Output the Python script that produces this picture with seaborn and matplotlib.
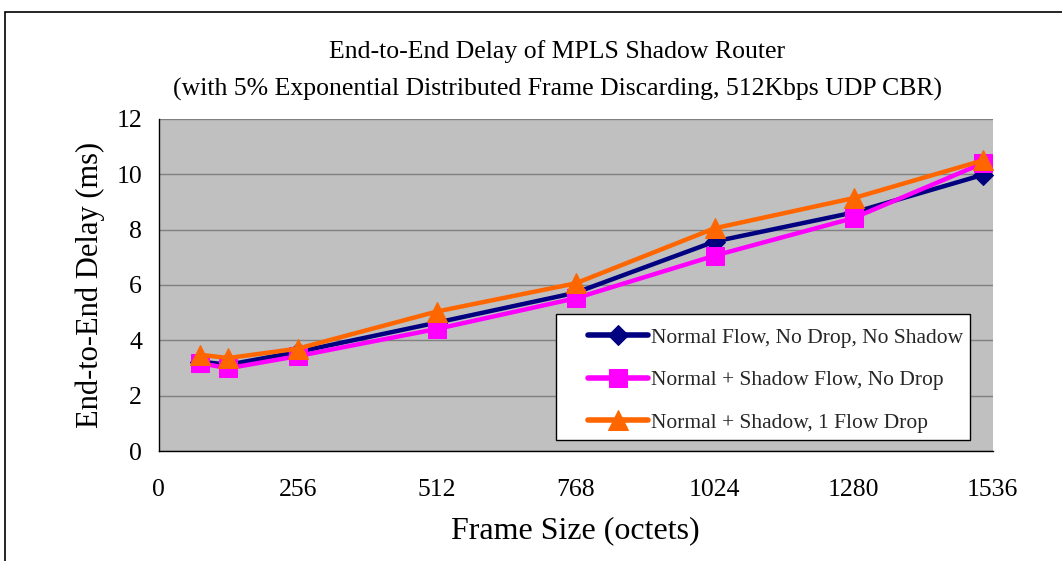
import matplotlib
matplotlib.use("Agg")
import matplotlib.pyplot as plt
from matplotlib.patches import Rectangle
import seaborn as sns
import pandas as pd

# Frame sizes (octets) and measured end-to-end delay (ms)
frame_sizes = [76, 128, 256, 512, 768, 1024, 1280, 1518]
normal_no_shadow = [3.23, 3.12, 3.58, 4.64, 5.72, 7.57, 8.62, 9.98]
shadow_no_drop = [3.18, 2.99, 3.43, 4.41, 5.52, 7.06, 8.42, 10.40]
shadow_one_drop = [3.48, 3.36, 3.70, 5.04, 6.06, 8.05, 9.14, 10.50]

series_names = [
    "Normal Flow, No Drop, No Shadow",
    "Normal + Shadow Flow, No Drop",
    "Normal + Shadow, 1 Flow Drop",
]
series_values = [normal_no_shadow, shadow_no_drop, shadow_one_drop]
colors = ["#000080", "#FF00FF", "#FF6600"]
markers = ["D", "s", "^"]
marker_sizes = [10.5, 13, 14]

x_ticks = [0, 256, 512, 768, 1024, 1280, 1536]
y_ticks = [0, 2, 4, 6, 8, 10, 12]

sns.set_theme(style="white")
plt.rcParams["font.family"] = ["Liberation Serif", "DejaVu Serif"]

fig = plt.figure(figsize=(10.62, 5.61), dpi=100)
ax = fig.add_axes([0.1494, 0.196, 0.7853, 0.592])
ax.set_facecolor("#C0C0C0")

df = pd.DataFrame({
    "size": frame_sizes * 3,
    "delay": sum(series_values, []),
    "series": [n for n in series_names for _ in frame_sizes],
})

for name, col, mk, ms in zip(series_names, colors, markers, marker_sizes):
    sub = df[df["series"] == name]
    sns.lineplot(data=sub, x="size", y="delay", ax=ax, color=col,
                 marker=mk, markersize=ms, markeredgecolor=col,
                 linewidth=3.2, label=name, zorder=3)

ax.set_xlim(0, 1536)
ax.set_ylim(0, 12)
ax.set_xticks(x_ticks)
ax.set_yticks(y_ticks)
ax.set_xticklabels([str(v) for v in x_ticks])
ax.set_yticklabels([str(v) for v in y_ticks])
ax.yaxis.grid(True, color="#808080", linewidth=1.0)
ax.xaxis.grid(False)
ax.set_axisbelow(True)

for side in ["top", "right"]:
    ax.spines[side].set_visible(False)
for side in ["left", "bottom"]:
    ax.spines[side].set_color("black")
    ax.spines[side].set_linewidth(1.0)

ax.tick_params(axis="both", which="major", direction="out", length=6,
               width=1.0, color="black", labelsize=18.5, labelcolor="black")
ax.tick_params(axis="x", pad=14)
ax.tick_params(axis="y", pad=6)

ax.set_xlabel("Frame Size (octets)", fontsize=23, labelpad=11, color="black")
ax.set_ylabel("End-to-End Delay (ms)", fontsize=22, labelpad=8, color="black")

fig.text(0.5245, 0.908, "End-to-End Delay of MPLS Shadow Router",
         ha="center", va="center", fontsize=18.5, color="black")
fig.text(0.5245, 0.84,
         "(with 5% Exponential Distributed Frame Discarding, 512Kbps UDP CBR)",
         ha="center", va="center", fontsize=18.5, color="black")

# legend box drawn as its own frame; entries placed inside it
ax.add_patch(Rectangle((0.476, 0.033), 0.497, 0.38, transform=ax.transAxes,
                       facecolor="white", edgecolor="black", linewidth=1.0,
                       zorder=4))
leg = ax.legend(loc="upper left", bbox_to_anchor=(0.515, 0.372),
                fontsize=15.5, frameon=False,
                handlelength=2.8, handletextpad=0.1, labelspacing=1.05,
                borderpad=0, borderaxespad=0)
leg.set_zorder(5)
for line in leg.get_lines():
    line.set_linewidth(4)

# chart area border
fig.patches.append(Rectangle((5 / 1062, -0.1), 1.2, 1 - 12 / 561 + 0.1,
                             transform=fig.transFigure, fill=False,
                             edgecolor="black", linewidth=1.2))

fig.savefig("out.png", dpi=100)
